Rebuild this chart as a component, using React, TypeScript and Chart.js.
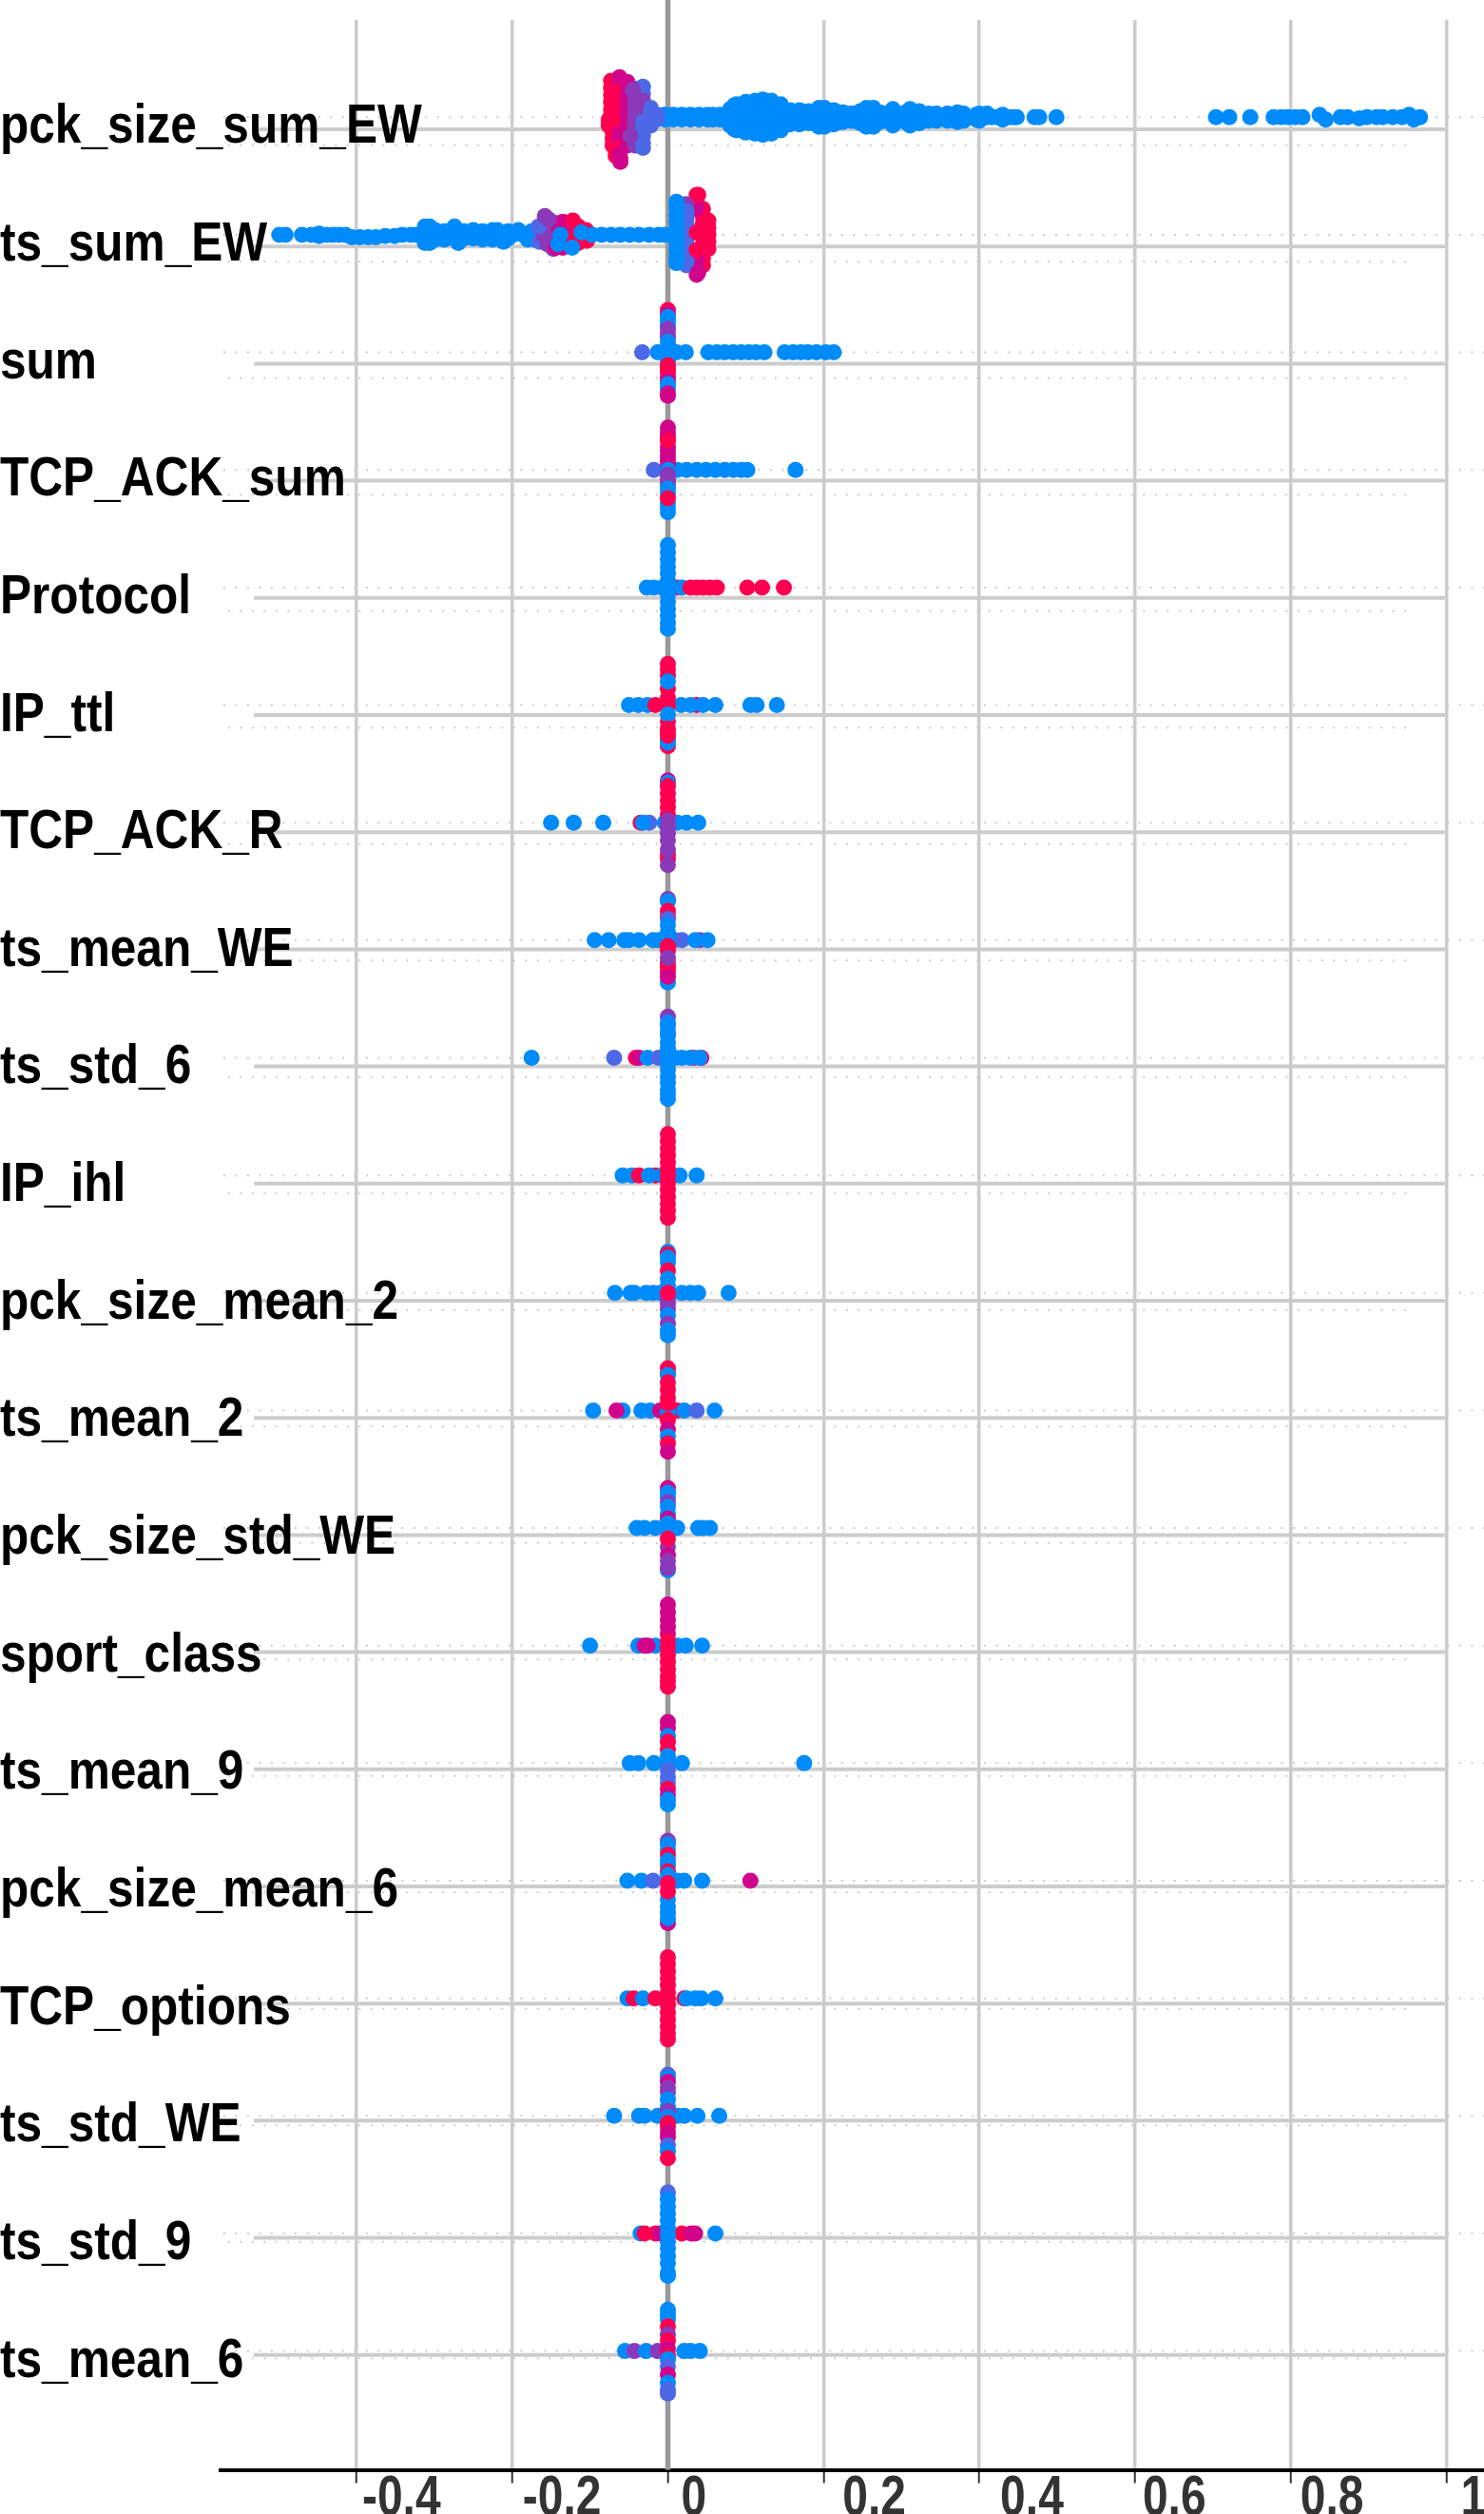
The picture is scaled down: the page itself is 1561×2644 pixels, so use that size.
import React, { useEffect, useRef } from "react";
import { Chart, registerables } from "chart.js";

Chart.register(...registerables);

type Swarm = number[][];

// feature-value colour steps, low (blue) to high (red)
const palette = ["#008bfb", "#4d68e6", "#8a3ab9", "#d0058c", "#ff0051"];

const featureNames = [
  "pck_size_sum_EW", "ts_sum_EW", "sum", "TCP_ACK_sum", "Protocol", "IP_ttl", "TCP_ACK_R",
  "ts_mean_WE", "ts_std_6", "IP_ihl", "pck_size_mean_2", "ts_mean_2", "pck_size_std_WE",
  "sport_class", "ts_mean_9", "pck_size_mean_6", "TCP_options", "ts_std_WE", "ts_std_9", "ts_mean_6",
];

const xTickValues = [-0.4, -0.2, 0, 0.2, 0.4, 0.6, 0.8, 1];
const xTickLabels = ["-0.4", "-0.2", "0", "0.2", "0.4", "0.6", "0.8", "1"];

// [shap value, vertical offset in hundredths of a row, colour step]
const pckSizeSumEW: Swarm = [
  [-.004,-2,0],[-.004,2,0],[.007,2,0],[.007,-2,0],[.018,-2,0],[.018,2,0],[.029,-2,0],[.029,2,0],[.04,2,0],[.04,-2,0],[.051,-2,0],[.051,2,0],[.058,2,0],[.058,-2,0],[.067,-2,0],[.067,2,0],
  [.08,-7,0],[.08,0,0],[.08,7,0],[.085,-10,0],[.085,10,0],[.088,-11,0],[.088,0,0],[.088,11,0],[.1,-13,0],[.1,-5,0],[.1,5,0],[.1,13,0],
  [.112,-14,0],[.112,-6,0],[.112,6,0],[.112,14,0],[.122,-15,0],[.122,-8,0],[.122,0,0],[.122,8,0],[.122,15,0],
  [.133,-14,0],[.133,-6,0],[.133,6,0],[.133,14,0],[.145,-11,0],[.145,0,0],[.145,11,0],
  [.151,0,0],[.157,-6,0],[.157,6,0],[.16,-4,0],[.16,4,0],[.163,0,0],[.169,-6,0],[.169,6,0],[.175,0,0],[.175,-4,0],[.175,4,0],[.181,-5,0],[.181,5,0],[.187,0,0],[.19,-5,0],[.19,5,0],
  [.194,-8,0],[.194,0,0],[.194,8,0],[.201,-8,0],[.201,0,0],[.201,8,0],[.207,0,0],[.21,-4,0],[.21,4,0],[.213,-6,0],[.213,6,0],[.219,0,0],[.22,-4,0],[.22,4,0],
  [.225,-4,0],[.225,4,0],[.232,0,0],[.235,-3,0],[.235,3,0],[.238,-3,0],[.238,3,0],[.243,0,0],
  [.247,-5,0],[.247,5,0],[.255,-8,0],[.255,0,0],[.255,8,0],[.264,-8,0],[.264,0,0],[.264,8,0],[.272,-4,0],[.272,4,0],[.279,-3,0],[.279,3,0],
  [.284,0,0],[.289,-7,0],[.289,7,0],[.29,-4,0],[.29,4,0],[.294,0,0],[.298,-2,0],[.298,2,0],[.305,0,0],[.305,-4,0],[.305,4,0],[.311,-7,0],[.311,7,0],[.317,0,0],[.323,-5,0],[.323,5,0],
  [.33,0,0],[.335,-3,0],[.335,3,0],[.342,0,0],[.345,-3,0],[.345,3,0],[.353,0,0],[.359,3,0],[.359,-3,0],[.366,0,0],[.372,-4,0],[.372,4,0],[.378,0,0],[.38,-3,0],[.38,3,0],[.384,0,0],[.39,0,0],[.396,-2,0],[.396,2,0],
  [.4,-3,0],[.4,3,0],[.403,0,0],[.41,-3,0],[.41,0,0],[.416,0,0],[.423,0,0],[.43,-2,0],[.43,2,0],[.44,0,0],[.445,0,0],[.448,0,0],[.471,0,0],[.477,0,0],[.499,0,0],
  [.704,0,0],[.721,0,0],[.748,0,0],[.778,0,0],[.788,0,0],[.797,0,0],[.806,0,0],[.815,0,0],
  [.837,-2,0],[.845,2,0],[.864,0,0],[.873,0,0],[.888,1,0],[.898,0,0],[.91,0,0],[.918,0,0],
  [.931,0,0],[.943,0,0],[.952,-2,0],[.958,2,0],[.966,0,0],
  [-.073,-31,4],[-.073,-25,4],[-.073,-19,4],[-.073,-13,4],[-.073,-7,4],[-.073,-1,4],[-.076,2,4],[-.076,7,4],[-.071,12,4],[-.071,18,4],[-.071,24,4],
  [-.067,28,4],[-.067,33,4],[-.061,35,4],[-.061,38,3],
  [-.062,-34,3],[-.062,-28,3],[-.062,-22,4],[-.062,-16,4],[-.062,-10,4],[-.062,-4,4],[-.062,2,4],[-.062,8,4],[-.062,14,3],[-.062,20,3],[-.062,26,4],[-.062,32,3],
  [-.052,-30,3],[-.052,-24,3],[-.052,-18,3],[-.052,-12,3],[-.052,-6,3],[-.052,0,3],[-.052,6,3],[-.052,12,3],[-.052,18,3],[-.052,24,3],
  [-.042,-24,2],[-.042,-18,2],[-.042,-12,2],[-.042,-6,2],[-.042,0,2],[-.042,6,2],[-.042,12,2],[-.042,18,2],[-.042,24,2],
  [-.032,-26,1],[-.032,-20,1],[-.032,-14,2],[-.032,-8,2],[-.032,-2,2],[-.032,4,1],[-.032,10,1],[-.032,16,1],[-.032,22,1],[-.032,26,1],
  [-.022,-8,1],[-.022,-3,1],[-.022,2,1],[-.022,7,1],[-.014,-2,1],[-.014,2,1],
  [-.045,-23,2],[-.04,-12,2],[-.048,16,2],
];

const tsSumEW: Swarm = [
  [-.499,0,0],[-.491,0,0],[-.47,0,0],[-.458,0,0],[-.448,-1,0],[-.448,1,0],[-.438,0,0],[-.43,0,0],[-.422,0,0],
  [-.414,0,0],[-.406,2,0],[-.396,2,0],[-.385,2,0],[-.375,2,0],[-.363,1,0],[-.351,1,0],[-.341,0,0],
  [-.33,0,0],[-.323,0,0],[-.318,0,0],[-.312,-7,0],[-.312,0,0],[-.312,7,0],[-.306,-7,0],[-.306,0,0],[-.306,7,0],[-.299,-4,0],[-.299,4,0],[-.292,0,0],[-.287,-3,0],[-.287,4,0],[-.281,-2,0],
  [-.275,3,0],[-.274,-7,0],[-.269,7,0],[-.262,-3,0],[-.262,3,0],[-.256,0,0],[-.25,3,0],[-.25,-4,0],[-.244,0,0],[-.238,-3,0],[-.238,4,0],[-.231,0,0],[-.225,4,0],[-.225,-4,0],[-.219,-4,0],[-.215,2,0],[-.211,6,0],[-.205,-3,0],[-.205,3,0],[-.199,0,0],
  [-.192,-4,0],[-.186,0,0],[-.18,4,0],[-.175,-3,0],[-.171,4,0],
  [-.165,-6,1],[-.165,6,1],[-.16,0,2],[-.155,-8,2],[-.155,8,2],[-.15,0,2],[-.145,-10,2],[-.145,10,2],[-.14,-4,3],[-.135,-11,3],[-.135,11,3],[-.13,4,3],[-.125,-9,4],[-.125,9,4],[-.12,0,4],[-.115,-7,4],[-.115,7,4],[-.105,-4,4],[-.105,4,4],
  [-.166,-7,1],[-.158,-16,2],[-.153,-13,2],[-.147,12,2],
  [-.144,11,3],[-.135,0,4],[-.128,-10,3],[-.122,-12,4],[-.113,-3,4],[-.105,-2,4],[-.104,5,4],
  [-.138,0,0],[-.141,8,0],[-.123,11,0],[-.111,-2,0],[-.097,0,0],[-.085,0,0],[-.073,0,0],[-.061,0,0],
  [-.049,0,0],[-.037,0,0],[-.024,0,0],[-.012,0,0],[-.004,0,0],
  [.045,-22,4],[.045,-16,4],[.045,-10,4],[.045,-4,4],[.045,2,4],[.045,8,4],[.045,14,4],[.045,20,4],[.045,26,4],[.052,-12,4],[.052,-6,4],[.052,0,4],[.052,6,4],[.052,12,4],
  [.037,-34,4],[.037,-28,3],[.037,-22,3],[.037,18,3],[.037,24,3],[.037,30,3],[.037,34,3],
  [.024,-26,2],[.024,-20,1],[.024,-14,1],[.024,-8,1],[.024,-2,1],[.024,4,1],[.024,10,1],[.024,16,1],[.024,22,1],[.024,26,1],
  [.011,-28,0],[.011,-23,0],[.011,-17,0],[.011,-11,0],[.011,-5,0],[.011,1,0],[.011,7,0],[.011,13,0],[.011,19,0],[.011,24,0],
  [.039,-34,4],[.039,32,3],[.037,-2,4],[.037,13,4],
];

const sumArm = [[-.033,1],[-.013,0],[.011,0],[.023,0],[.052,0],[.063,0],[.073,0],[.084,0],[.094,0],[.104,0],[.113,0],[.124,0],[.15,0],[.161,0],[.171,0],[.18,0],[.191,0],[.203,0],[.213,0]];
const sumSpine = [[-36,4],[-33,3],[-30,0],[-27,0],[-23,0],[-20,2],[-16,2],[-13,2],[-9,0],[-5,0],[-1,0],[3,0],[7,0],[11,4],[14,4],[17,4],[21,4],[24,3],[27,0],[31,0],[37,3],[35,3]];

const tcpAckSumArm = [[-.018,1],[.012,0],[.024,0],[.037,0],[.049,0],[.061,0],[.073,0],[.084,0],[.094,0],[.102,0],[.164,0]];
const tcpAckSumSpine = [[-36,3],[-32,3],[-28,3],[-20,3],[-16,3],[-12,3],[-25,4],[-8,3],[-4,3],[0,0],[4,2],[8,2],[12,2],[16,0],[20,0],[28,0],[32,0],[36,0],[24,4]];

const protocolArm = [[-.027,0],[-.018,0],[-.007,0],[.012,4],[.018,0],[.029,4],[.037,4],[.045,4],[.054,4],[.063,4],[.102,4],[.121,4],[.149,4]];
const protocolSpine = [[-36,0],[-30,0],[-24,0],[-18,0],[-12,0],[-6,0],[0,0],[6,0],[12,0],[18,0],[24,0],[30,0],[35,0]];

const ipTtlArm = [[-.05,0],[-.038,0],[-.026,0],[-.016,4],[.017,0],[.037,4],[.029,0],[.045,0],[.061,0],[.106,0],[.114,0],[.14,0]];
const ipTtlSpine = [[-35,4],[-30,4],[-25,4],[-14,4],[-6,4],[0,4],[14,4],[24,4],[35,4],[32,0],[-20,0],[8,0],[29,0],[20,4],[26,4]];

const tcpAckRArm = [[-.15,0],[-.121,0],[-.083,0],[-.035,4],[-.024,1],[-.032,0],[-.004,0],[.012,0],[.024,0],[.039,0]];
const tcpAckRSpine = [[-36,3],[-34,0],[-31,4],[-25,4],[-19,4],[-13,4],[-7,4],[-2,2],[4,2],[9,2],[15,2],[27,4],[31,4],[36,2],[23,2]];

const tsMeanWEArm = [[-.094,0],[-.076,0],[-.056,0],[-.05,0],[-.037,0],[-.019,0],[-.012,0],[.009,1],[.018,1],[.041,2],[.035,0],[.051,0]];
const tsMeanWESpine = [[-35,2],[-33,0],[-25,4],[-20,4],[-18,1],[-13,0],[-7,0],[-1,0],[5,4],[9,4],[19,4],[23,4],[27,4],[15,2],[36,0],[31,3]];

const tsStd6Arm = [[-.175,0],[-.069,1],[-.041,4],[-.037,3],[-.026,0],[-.012,1],[.009,0],[.018,0],[.033,4],[.043,4],[.041,0],[.029,0]];
const tsStd6Spine = [[-35,2],[-30,0],[-27,0],[-22,0],[-19,0],[-13,0],[-8,0],[-2,0],[5,0],[10,0],[16,0],[21,0],[27,0],[31,0],[35,0]];

const ipIhlArm = [[-.058,0],[-.046,0],[-.037,4],[-.016,4],[-.024,0],[-.007,0],[.015,0],[.037,0]];
const ipIhlSpine = [[-35,4],[-29,4],[-23,4],[-17,4],[-11,4],[-5,4],[0,4],[6,4],[12,4],[18,4],[24,4],[30,4],[36,4]];

const pckSizeMean2Arm = [[-.068,0],[-.048,0],[-.043,0],[-.028,0],[-.019,0],[-.01,0],[.018,0],[.029,0],[.039,0],[.078,0]];
const pckSizeMean2Spine = [[-35,0],[-33,4],[-30,0],[-26,0],[-19,4],[-12,0],[-6,0],[5,2],[9,2],[14,2],[19,0],[26,2],[36,0],[32,0],[0,4]];

const tsMean2Arm = [[-.096,0],[-.058,0],[-.066,3],[-.034,0],[-.023,0],[-.01,3],[.012,4],[.021,0],[.037,1],[.06,0]];
const tsMean2Spine = [[-36,4],[-32,4],[-30,0],[-24,4],[-18,4],[-11,4],[2,0],[-6,4],[8,4],[16,3],[22,0],[28,4],[35,3]];

const pckSizeStdWEArm = [[-.04,0],[-.03,0],[-.016,0],[.012,0],[.039,0],[.045,0],[.054,0]];
const pckSizeStdWESpine = [[-34,3],[-30,0],[-26,0],[-22,2],[-18,0],[-12,0],[-8,3],[-4,0],[3,0],[16,2],[23,3],[28,2],[36,0],[34,2],[9,4]];

const sportClassArm = [[-.1,0],[-.038,0],[-.016,0],[.012,0],[.023,0],[.044,0],[-.03,3],[-.026,3]];
const sportClassSpine = [[-35,3],[-28,3],[-22,3],[-16,3],[-10,3],[-4,4],[2,4],[8,4],[14,4],[20,4],[26,4],[30,4],[35,4]];

const tsMean9Arm = [[-.049,0],[-.038,0],[-.018,0],[0,0],[.018,0],[.175,0]];
const tsMean9Spine = [[-35,3],[-30,3],[-23,0],[-18,4],[-12,4],[-6,0],[0,0],[6,1],[12,1],[17,1],[22,4],[27,3],[35,0],[31,0]];

const pckSizeMean6Arm = [[-.052,0],[-.034,0],[-.019,1],[.012,0],[.021,0],[.044,0],[.106,3]];
const pckSizeMean6Spine = [[-34,2],[-31,0],[-26,0],[-22,4],[-17,0],[-13,0],[-8,4],[-5,0],[2,4],[16,0],[36,3],[22,0],[27,0],[32,0],[9,4]];

const tcpOptionsArm = [[-.052,0],[-.044,4],[-.032,0],[-.016,4],[.021,4],[.024,0],[.035,0],[.043,0],[.061,0]];
const tcpOptionsSpine = [[-35,4],[-29,4],[-23,4],[-17,4],[-11,4],[-5,4],[0,4],[6,4],[12,4],[18,4],[24,4],[30,4],[35,4]];

const tsStdWEArm = [[-.069,0],[-.037,0],[-.03,0],[-.013,0],[.012,0],[.021,0],[.038,0],[.066,0]];
const tsStdWESpine = [[-35,1],[-32,0],[-29,3],[-24,2],[-20,2],[-14,0],[-8,0],[-4,2],[1,0],[6,4],[9,4],[14,3],[18,3],[25,1],[30,0],[36,4]];

const tsStd9Arm = [[-.035,0],[-.03,4],[-.016,4],[-.01,3],[.018,4],[.03,3],[.035,3],[.061,0]];
const tsStd9Spine = [[-35,1],[-29,0],[-23,0],[-17,0],[-11,0],[-5,0],[1,0],[7,0],[13,0],[19,0],[25,0],[33,0],[36,0]];

const tsMean6Arm = [[-.055,0],[-.043,2],[-.028,0],[-.013,2],[.021,0],[.029,0],[.041,0]];
const tsMean6Spine = [[-35,0],[-31,0],[-27,0],[-21,4],[-14,2],[-9,4],[-2,3],[4,4],[7,0],[13,1],[20,3],[27,0],[36,1],[33,1]];

const armRows = [[], [], sumArm, tcpAckSumArm, protocolArm, ipTtlArm, tcpAckRArm, tsMeanWEArm, tsStd6Arm, ipIhlArm, pckSizeMean2Arm, tsMean2Arm, pckSizeStdWEArm, sportClassArm, tsMean9Arm, pckSizeMean6Arm, tcpOptionsArm, tsStdWEArm, tsStd9Arm, tsMean6Arm];
const spineRows = [[], [], sumSpine, tcpAckSumSpine, protocolSpine, ipTtlSpine, tcpAckRSpine, tsMeanWESpine, tsStd6Spine, ipIhlSpine, pckSizeMean2Spine, tsMean2Spine, pckSizeStdWESpine, sportClassSpine, tsMean9Spine, pckSizeMean6Spine, tcpOptionsSpine, tsStdWESpine, tsStd9Spine, tsMean6Spine];
const swarmRows: Swarm[] = [pckSizeSumEW, tsSumEW];

// label nudges, to the right of each tick mark
const xLabelShift = [6, 11, 14, 20, 22, 8, 10, 15];
const xLabelSqueeze = 0.8;
const yLabelSqueeze = 0.855;

const sansBold = "'Liberation Sans',Arial,sans-serif";
const rowRange = { min: -0.8273, max: 20.01 };
const hRange = { min: -0.9334, max: 19.98 };
const lowRange = { min: -1.075, max: 19.957 };
const rowIdx = featureNames.map((_, i) => i);

function rowTriples(i: number): number[][] {
  if (i < swarmRows.length) return swarmRows[i];
  return [
    ...armRows[i].map(([x, c]) => [x, 0, c]),
    ...spineRows[i].map(([o, c]) => [0, o, c]),
  ];
}

function squeeze(scale: any, sx: number) {
  const draw = scale.drawLabels.bind(scale);
  scale._computeLabelArea = () => undefined;
  scale.drawLabels = (area: any) => {
    const ctx = scale.ctx;
    ctx.save();
    ctx.scale(sx, 1);
    draw(area);
    ctx.restore();
  };
}

const shapeLabels = {
  id: "shapeLabels",
  beforeDraw(chart: any) {
    if (chart.$shaped) return;
    chart.$shaped = true;
    chart.scales.x.getLabelItems().forEach((item: any, i: number) => {
      item.options.translation[0] = (item.options.translation[0] + xLabelShift[i]) / xLabelSqueeze;
    });
    squeeze(chart.scales.x, xLabelSqueeze);
    squeeze(chart.scales.y, yLabelSqueeze);
  },
};

export default function App() {
  const ref = useRef<HTMLCanvasElement>(null);
  useEffect(() => {
    document.body.style.margin = "0";
    const lineSet = (data: any[], yAxisID: string, color: string, width: number, dash: number[] = []) => ({
      data, yAxisID, showLine: true, pointRadius: 0, borderColor: color, borderWidth: width,
      borderDash: dash, clip: false as const,
    });
    const pointSets = rowIdx.map((i) => {
      const t = rowTriples(i);
      return {
        data: t.map(([x, o]) => ({ x, y: i + o / 100 })),
        yAxisID: "y",
        pointRadius: 8.5,
        pointBorderWidth: 0,
        pointBackgroundColor: t.map(([, , c]) => palette[c]),
        showLine: false,
      };
    });
    const chart = new Chart(ref.current!, {
      type: "scatter",
      plugins: [shapeLabels],
      data: {
        datasets: [
          ...pointSets,
          lineSet([{ x: 0, y: -0.9975 }, { x: 0, y: rowRange.max }], "y", "#999999", 5.5),
          ...rowIdx.map((i) => lineSet([{ x: -0.5317, y: i }, { x: 0.998, y: i }], "yH", "#cccccc", 4)),
          ...rowIdx.map((i) => lineSet([{ x: -0.571, y: i }, { x: 1.048, y: i }], "y", "#cccccc", 2, [2, 10.5])),
          ...rowIdx.map((i) => lineSet([{ x: -0.565, y: i }, { x: 0.951, y: i }], "yD", "#cccccc", 2, [2, 10.5])),
        ] as any,
      },
      options: {
        responsive: false,
        animation: false,
        devicePixelRatio: 1,
        layout: { autoPadding: false, padding: { top: 21, left: 0, right: 0, bottom: 0 } },
        plugins: { legend: { display: false }, tooltip: { enabled: false } },
        scales: {
          x: {
            type: "linear",
            min: -0.5745,
            max: 1.0482,
            afterBuildTicks: (s: any) => { s.ticks = xTickValues.map((value) => ({ value })); },
            afterFit: (s: any) => { s.height = 46.5; s.paddingLeft = 0; s.paddingRight = 0; },
            border: { display: true, color: "#000000", width: 4 },
            grid: {
              color: (c: any) => (c.tick && c.tick.value === 0 ? "rgba(0,0,0,0)" : "#cccccc"),
              lineWidth: 3.5,
              drawTicks: true,
              tickLength: 14,
              tickColor: "#333333",
              tickWidth: 2,
            },
            ticks: {
              autoSkip: false,
              maxRotation: 0,
              minRotation: 0,
              align: "start",
              padding: -19,
              color: "#333333",
              font: { family: sansBold, size: 60, weight: "bold" },
              callback: (_v: any, i: number) => xTickLabels[i],
            },
          },
          y: {
            type: "linear",
            reverse: true,
            min: rowRange.min,
            max: rowRange.max,
            position: "left",
            afterBuildTicks: (s: any) => { s.ticks = rowIdx.map((value) => ({ value })); },
            afterFit: (s: any) => { s.width = 232; s.paddingTop = 0; s.paddingBottom = 0; },
            border: { display: false },
            grid: { display: false, drawTicks: false },
            ticks: {
              autoSkip: false,
              mirror: true,
              crossAlign: "near",
              padding: -232,
              labelOffset: 11,
              z: 1,
              color: "#000000",
              font: { family: sansBold, size: 58, weight: "bold" },
              callback: (_v: any, i: number) => featureNames[i],
            },
          },
          yH: { type: "linear", display: false, reverse: true, min: hRange.min, max: hRange.max },
          yD: { type: "linear", display: false, reverse: true, min: lowRange.min, max: lowRange.max },
        },
      } as any,
    });
    return () => chart.destroy();
  }, []);
  return <canvas ref={ref} width={1561} height={2644} style={{ display: "block" }} />;
}
